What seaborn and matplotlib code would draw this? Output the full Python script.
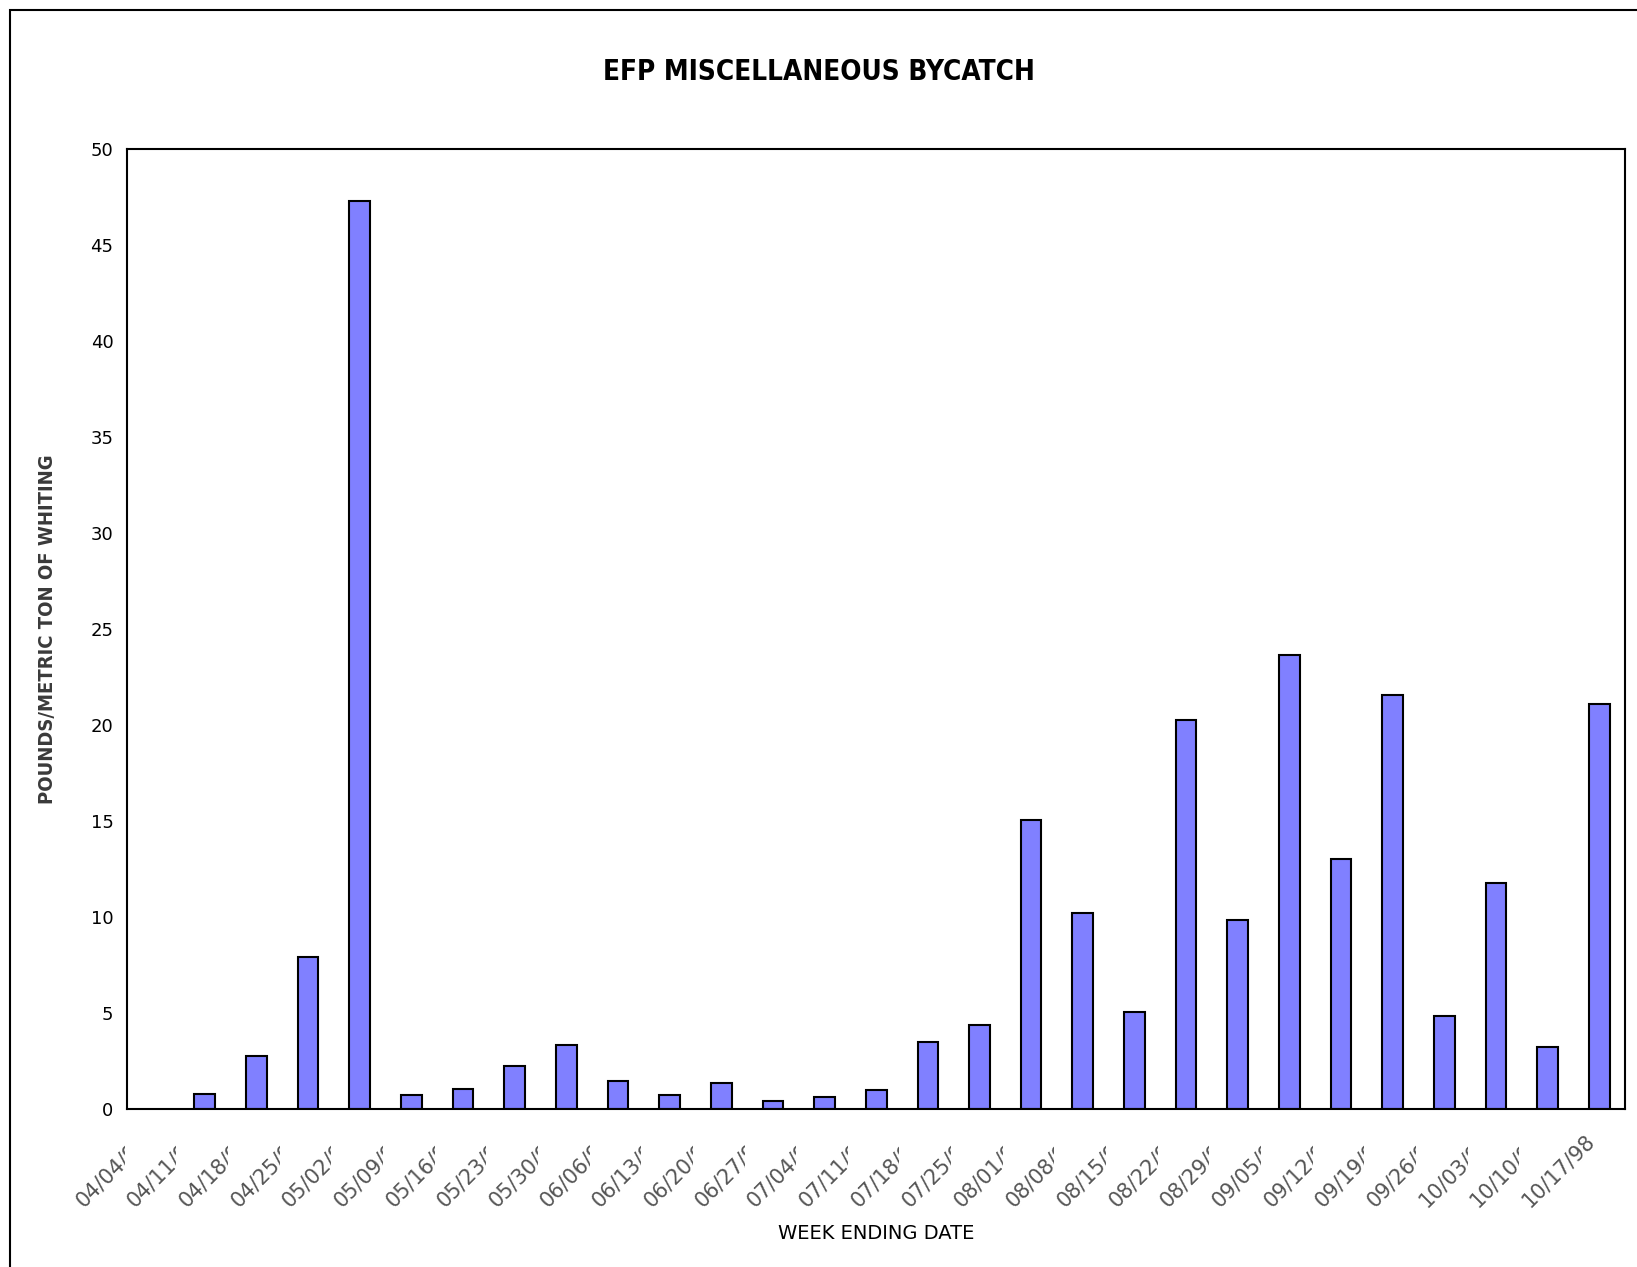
import numpy as np
import pandas as pd
import matplotlib
matplotlib.use('Agg')

import matplotlib.pyplot as plt
import matplotlib.transforms as mtransforms
from matplotlib.patches import Rectangle
import seaborn as sns

# ── Data ───────────────────────────────────────────────────────────────────
weeks = [
    "04/04/98", "04/11/98", "04/18/98", "04/25/98", "05/02/98",
    "05/09/98", "05/16/98", "05/23/98", "05/30/98", "06/06/98",
    "06/13/98", "06/20/98", "06/27/98", "07/04/98", "07/11/98",
    "07/18/98", "07/25/98", "08/01/98", "08/08/98", "08/15/98",
    "08/22/98", "08/29/98", "09/05/98", "09/12/98", "09/19/98",
    "09/26/98", "10/03/98", "10/10/98", "10/17/98",
]

bycatch = [
    np.nan, 0.76, 2.77, 7.94, 47.3,
    0.71, 1.03, 2.23, 3.32, 1.47,
    0.71, 1.36, 0.44, 0.6, 0.98,
    3.48, 4.35, 15.07, 10.23, 5.06,
    20.24, 9.85, 23.67, 13.0, 21.55,
    4.84, 11.75, 3.21, 21.11,
]

df = pd.DataFrame({'week': weeks, 'value': bycatch})

# ── Figure ─────────────────────────────────────────────────────────────────
sns.set_style('white')
plt.rcParams['font.family'] = ['DejaVu Sans']
plt.rcParams['text.color'] = 'black'

fig = plt.figure(figsize=(16.37, 12.67), dpi=100)
ax = fig.add_axes([0.0778, 0.1247, 0.9149, 0.7577])

sns.barplot(
    data=df,
    x='week',
    y='value',
    order=weeks,
    color='#8080FF',
    saturation=1,
    width=0.4,
    edgecolor='black',
    linewidth=1.5,
    ax=ax
)

ax.set_xlim(-0.5, len(weeks) - 0.5)
ax.set_ylim(0, 50)
ax.set_yticks(range(0, 51, 5))
ax.tick_params(axis='y', length=6, width=1, direction='out',
               labelsize=13, colors='black', labelcolor='black', pad=4)
ax.tick_params(axis='x', length=0, pad=15.5)

ax.set_xticks(range(len(weeks)))
ax.set_xticklabels(weeks, rotation=45, ha='right', va='top',
                   rotation_mode='anchor', fontsize=15, color='#555555')

# Excel squeezed the labels: each one is clipped at the left of its slot,
# only the last one shows in full
shift = mtransforms.ScaledTranslation(-15 / 100, 0, fig.dpi_scale_trans)
blend = mtransforms.blended_transform_factory(ax.transData, fig.transFigure)
labels = ax.get_xticklabels()
for i, lab in enumerate(labels):
    lab.set_transform(lab.get_transform() + shift)
    if i < len(labels) - 1:
        box = mtransforms.Bbox([[i - 3, 0], [i - 0.55, 1]])
        lab.set_clip_box(mtransforms.TransformedBbox(box, blend))
        lab.set_clip_on(True)

for sp in ax.spines.values():
    sp.set_visible(True)
    sp.set_color('black')
    sp.set_linewidth(1.5)

ax.set_xlabel("WEEK ENDING DATE", fontsize=14, color='black')
ax.xaxis.set_label_coords(0.5, -0.13)
ax.xaxis.label.set_va('center')

ax.set_ylabel("POUNDS/METRIC TON OF WHITING", fontsize=14.5,
              fontstretch='condensed', fontweight='bold', color='#3a3a3a')
ax.yaxis.set_label_coords(-0.053, 0.5)
ax.yaxis.label.set_va('center')

fig.text(0.5, 1 - 72 / 1267, "EFP MISCELLANEOUS BYCATCH",
         ha='center', va='center', fontsize=20, color='black',
         fontweight='bold', fontstretch='condensed')

# chart-area border (runs off right / bottom of the image)
fig.patches.append(Rectangle(
    (10 / 1637, -0.5), 2, 1.5 - 10 / 1267,
    transform=fig.transFigure, fill=False,
    edgecolor='black', linewidth=1.5, clip_on=False
))

plt.savefig('out.png', dpi=100)
plt.close()
